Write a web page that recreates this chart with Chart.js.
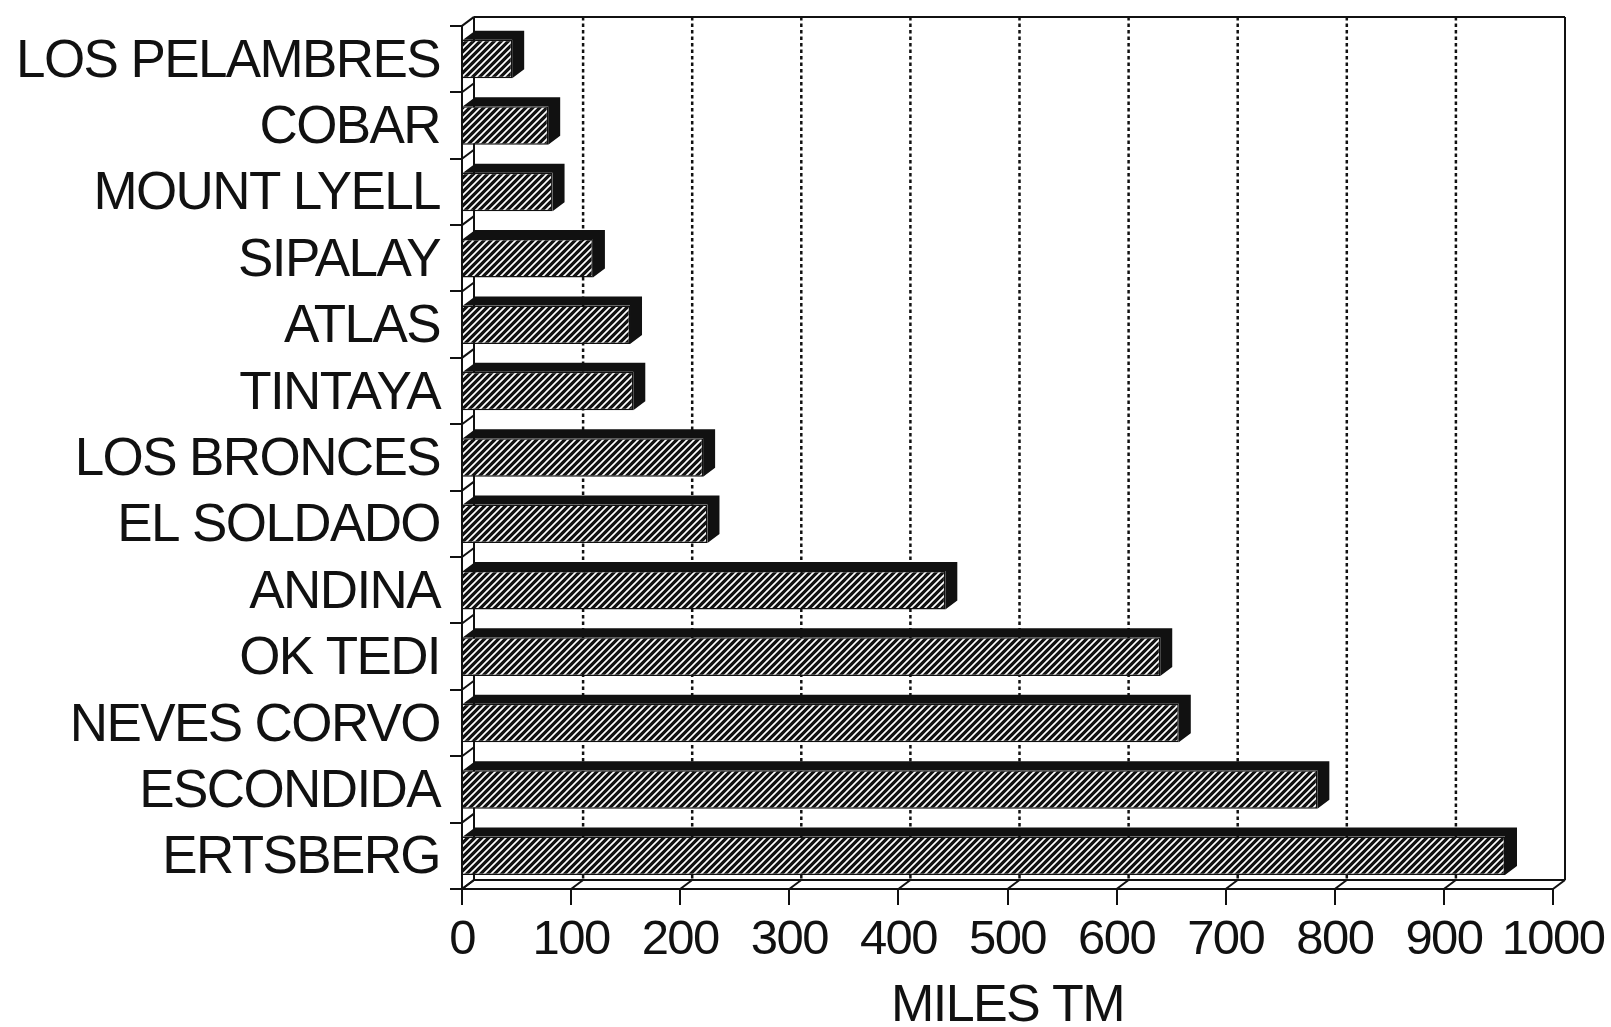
<!DOCTYPE html>
<html>
<head>
<meta charset="utf-8">
<script src="https://cdn.jsdelivr.net/npm/chart.js@4/dist/chart.umd.min.js"></script>
<style>
  html, body { margin: 0; padding: 0; background: #fff; }
  canvas { display: block; }
</style>
</head>
<body>
<canvas id="c" width="1611" height="1027"></canvas>
<script>
// Copper mine output, thousands of tonnes
const mines = ['LOS PELAMBRES', 'COBAR', 'MOUNT LYELL', 'SIPALAY', 'ATLAS', 'TINTAYA',
               'LOS BRONCES', 'EL SOLDADO', 'ANDINA', 'OK TEDI', 'NEVES CORVO', 'ESCONDIDA', 'ERTSBERG'];
const output = [46, 79, 83, 120, 154, 157, 221, 225, 443, 640, 657, 784, 956];
const xTicks = [0, 100, 200, 300, 400, 500, 600, 700, 800, 900, 1000];
const axisTitle = 'MILES TM';

const INK = '#111';
const FONT = '"Liberation Sans", Arial, sans-serif';
const SPACING = '-1.6px';
const DX = 12, DY = 9;   // depth offset of the back wall / bar sides

// diagonal white-on-black hatch for the bar faces
function makeHatch(ctx) {
  const s = 7;
  const c = document.createElement('canvas');
  c.width = c.height = s;
  const g = c.getContext('2d');
  g.fillStyle = INK;
  g.fillRect(0, 0, s, s);
  g.strokeStyle = '#fff';
  g.lineWidth = 1.7;
  g.beginPath();
  g.moveTo(0, s); g.lineTo(s, 0);
  g.moveTo(-1, 1); g.lineTo(1, -1);
  g.moveTo(s - 1, s + 1); g.lineTo(s + 1, s - 1);
  g.stroke();
  return ctx.createPattern(c, 'repeat');
}

function seg(ctx, x1, y1, x2, y2) {
  ctx.beginPath();
  ctx.moveTo(x1, y1);
  ctx.lineTo(x2, y2);
  ctx.stroke();
}

// back wall, floor, side wall and bar depth faces
const depth3d = {
  id: 'depth3d',
  beforeUpdate(chart) { chart.ctx.letterSpacing = SPACING; },
  beforeDraw(chart) { chart.ctx.letterSpacing = SPACING; },
  beforeDatasetsDraw(chart) {
    const { ctx, chartArea: a, scales: { x, y } } = chart;
    const top = a.top - DY, floor = a.bottom - DY;
    const left = a.left + DX, right = a.right + DX;
    ctx.save();
    ctx.strokeStyle = INK;
    ctx.lineWidth = 2.5;
    ctx.setLineDash([3.5, 3]);
    xTicks.forEach(v => {
      if (v <= xTicks[0] || v >= xTicks[xTicks.length - 1]) return;
      const px = x.getPixelForValue(v) + DX;
      seg(ctx, px, top, px, floor);
    });
    ctx.setLineDash([]);
    ctx.lineWidth = 2;
    seg(ctx, left, top, right, top);
    seg(ctx, left, top, left, floor);
    seg(ctx, right, top, right, floor);
    seg(ctx, left, floor, right, floor);
    xTicks.forEach(v => {
      const px = x.getPixelForValue(v);
      seg(ctx, px, a.bottom, px + DX, floor);
    });
    for (let i = 0; i <= mines.length; i++) {
      const py = y.getPixelForValue(i - 0.5);
      seg(ctx, a.left, py, left, py - DY);
    }
    ctx.restore();
  },
  afterDatasetsDraw(chart) {
    const { ctx } = chart;
    ctx.save();
    ctx.fillStyle = INK;
    chart.getDatasetMeta(0).data.forEach(bar => {
      const { x: end, base, y: cy, height: h } = bar.getProps(['x', 'base', 'y', 'height'], true);
      const t = cy - h / 2, b = cy + h / 2;
      ctx.beginPath();
      ctx.moveTo(base, t);
      ctx.lineTo(base + DX, t - DY);
      ctx.lineTo(end + DX, t - DY);
      ctx.lineTo(end + DX, b - DY);
      ctx.lineTo(end, b);
      ctx.lineTo(end, t);
      ctx.closePath();
      ctx.fill();
    });
    ctx.restore();
  }
};

const canvas = document.getElementById('c');
const ctx = canvas.getContext('2d');

new Chart(canvas, {
  type: 'bar',
  data: {
    labels: mines,
    datasets: [{
      data: output,
      backgroundColor: makeHatch(ctx),
      borderColor: INK,
      borderWidth: 1.5,
      barPercentage: 0.58,
      categoryPercentage: 1
    }]
  },
  options: {
    indexAxis: 'y',
    responsive: false,
    animation: false,
    devicePixelRatio: 1,
    layout: { padding: { top: 20, right: 58, bottom: 0, left: 0 } },
    plugins: { legend: { display: false }, tooltip: { enabled: false } },
    scales: {
      x: {
        min: xTicks[0],
        max: xTicks[xTicks.length - 1],
        afterBuildTicks: s => { s.ticks = xTicks.map(v => ({ value: v })); },
        ticks: {
          color: INK, font: { family: FONT, size: 49 }, padding: 6, maxRotation: 0, autoSkip: false,
          callback: v => String(v)
        },
        grid: { drawOnChartArea: false, drawTicks: true, tickLength: 16, color: INK, lineWidth: 2 },
        border: { color: INK, width: 2 },
        title: { display: true, text: axisTitle, color: INK, font: { family: FONT, size: 52, lineHeight: 1 }, padding: { top: 0, bottom: -6 } },
        afterFit: s => { s.height = 138; }
      },
      y: {
        ticks: { color: INK, font: { family: FONT, size: 53, lineHeight: 0.6 }, padding: 10, labelOffset: 3, autoSkip: false },
        grid: { drawOnChartArea: false, tickLength: 12, color: INK, lineWidth: 2, offset: true },
        border: { color: INK, width: 2 },
        afterFit: s => { s.width = 462; }
      }
    }
  },
  plugins: [depth3d]
});
</script>
</body>
</html>
